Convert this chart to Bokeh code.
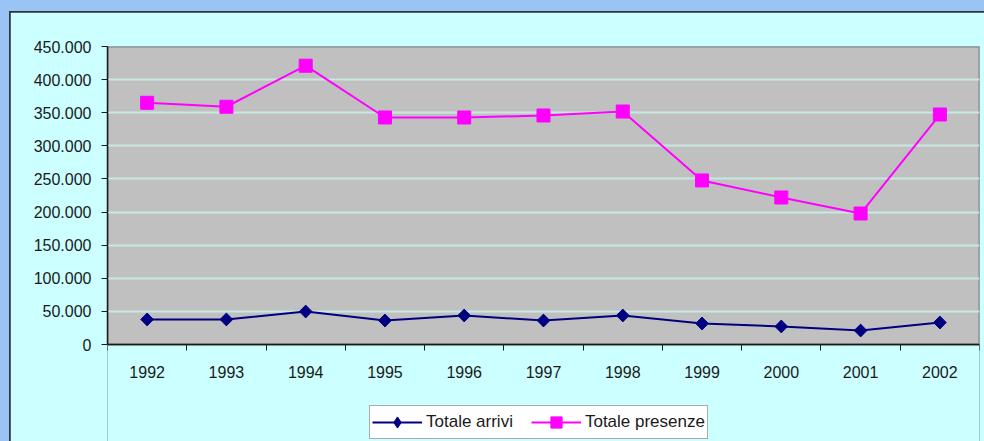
import math
from bokeh.plotting import figure
from bokeh.layouts import column
from bokeh.models import (FixedTicker, CustomJSTickFormatter, Range1d, Legend, LegendItem,
                          ColumnDataSource, BoxAnnotation)
from bokeh.embed import file_html
from bokeh.resources import INLINE

years = ["1992", "1993", "1994", "1995", "1996", "1997", "1998", "1999", "2000", "2001", "2002"]
arrivi = [37800, 37800, 49800, 36200, 43800, 36200, 43800, 31700, 27200, 21100, 33200]
presenze = [365000, 359000, 421000, 342800, 342800, 345800, 351800, 247700, 222000, 197800, 347300]
y_ticks = [0, 50000, 100000, 150000, 200000, 250000, 300000, 350000, 400000, 450000]
series_names = ["Totale arrivi", "Totale presenze"]

FONT = "Liberation Sans"
CYAN = "#CCFFFF"
NAVY = "#000080"
MAGENTA = "#FF00FF"
DARK = "#1a1a1a"

y_max = y_ticks[-1]
PLOT_PX = 298      # height of the grey plot area in pixels
BELOW_PX = 97      # space under the plot area (labels + legend)
y_min = -y_max * BELOW_PX / PLOT_PX

xpos = [i + 0.5 for i in range(len(years))]
src = ColumnDataSource(dict(x=xpos, arrivi=arrivi, presenze=presenze))

p = figure(width=974, height=429, output_backend="svg", toolbar_location=None,
           x_range=Range1d(0, len(years)), y_range=Range1d(y_min, y_max),
           min_border_left=97, min_border_right=5, min_border_top=34, min_border_bottom=0,
           margin=(1, 0, 0, 1))

p.background_fill_color = CYAN
p.border_fill_color = CYAN
p.outline_line_color = None

# grey plot area
p.add_layout(BoxAnnotation(left=0, right=len(years), bottom=0, top=y_max, level="image",
                           fill_color="#C0C0C0", fill_alpha=1,
                           line_color="#808080", line_width=2, line_alpha=1))

p.xgrid.grid_line_color = None
p.ygrid.grid_line_color = "#C8E8E2"
p.ygrid.grid_line_width = 2
p.ygrid.ticker = FixedTicker(ticks=y_ticks[1:])

# y axis
p.yaxis.bounds = (0, y_max)
p.yaxis.ticker = FixedTicker(ticks=y_ticks)
p.yaxis.formatter = CustomJSTickFormatter(code="return tick.toFixed(0).replace(/\\B(?=(\\d{3})+(?!\\d))/g, '.');")
p.yaxis.major_tick_out = 6
p.yaxis.major_tick_in = 0
p.yaxis.minor_tick_out = 0
p.yaxis.minor_tick_in = 0
p.yaxis.major_label_standoff = 10
p.yaxis.axis_line_color = DARK
p.yaxis.major_tick_line_color = DARK
p.yaxis.axis_line_width = 1.5
p.yaxis.major_label_text_font = FONT
p.yaxis.major_label_text_font_size = "16px"
p.yaxis.major_label_text_color = DARK

# x axis at y = 0: labels at centres, ticks at boundaries
p.xaxis.fixed_location = 0
p.xaxis.ticker = FixedTicker(ticks=xpos, minor_ticks=list(range(len(years) + 1)))
p.xaxis.major_label_overrides = {x: y for x, y in zip(xpos, years)}
p.xaxis.major_tick_out = 0
p.xaxis.major_tick_in = 0
p.xaxis.minor_tick_out = 6
p.xaxis.minor_tick_in = 0
p.xaxis.minor_tick_line_color = DARK
p.xaxis.axis_line_color = DARK
p.xaxis.axis_line_width = 1.5
p.xaxis.major_label_standoff = 15
p.xaxis.major_label_text_font = FONT
p.xaxis.major_label_text_font_size = "16px"
p.xaxis.major_label_text_color = DARK

# series
l1 = p.line("x", "arrivi", source=src, line_color=NAVY, line_width=2)
m1_leg = p.scatter("x", "arrivi", source=src, marker="diamond", size=12, fill_color=NAVY, line_color=NAVY)
p.scatter("x", "arrivi", source=src, marker="square", size=9, angle=math.pi / 4,
          fill_color=NAVY, line_color=NAVY)
l2 = p.line("x", "presenze", source=src, line_color=MAGENTA, line_width=2)
m2 = p.scatter("x", "presenze", source=src, marker="square", size=13, fill_color=MAGENTA, line_color=MAGENTA)

legend = Legend(items=[LegendItem(label=series_names[0], renderers=[l1, m1_leg]),
                       LegendItem(label=series_names[1], renderers=[l2, m2])],
                orientation="horizontal", location=(262, 2),
                glyph_width=50, glyph_height=28, label_height=28, label_standoff=4,
                spacing=18, padding=2, margin=0,
                label_text_font=FONT, label_text_font_size="17px", label_text_color=DARK,
                border_line_color="#555555", border_line_width=1.5,
                background_fill_color="white", background_fill_alpha=1)
p.add_layout(legend, "center")

inner = column(p, spacing=0, margin=(11, 0, 0, 9), styles={"background-color": "#333333"})
page = column(inner, spacing=0, styles={"background-color": "#99C4F5"})
open("out.html", "w").write(file_html(page, INLINE))
